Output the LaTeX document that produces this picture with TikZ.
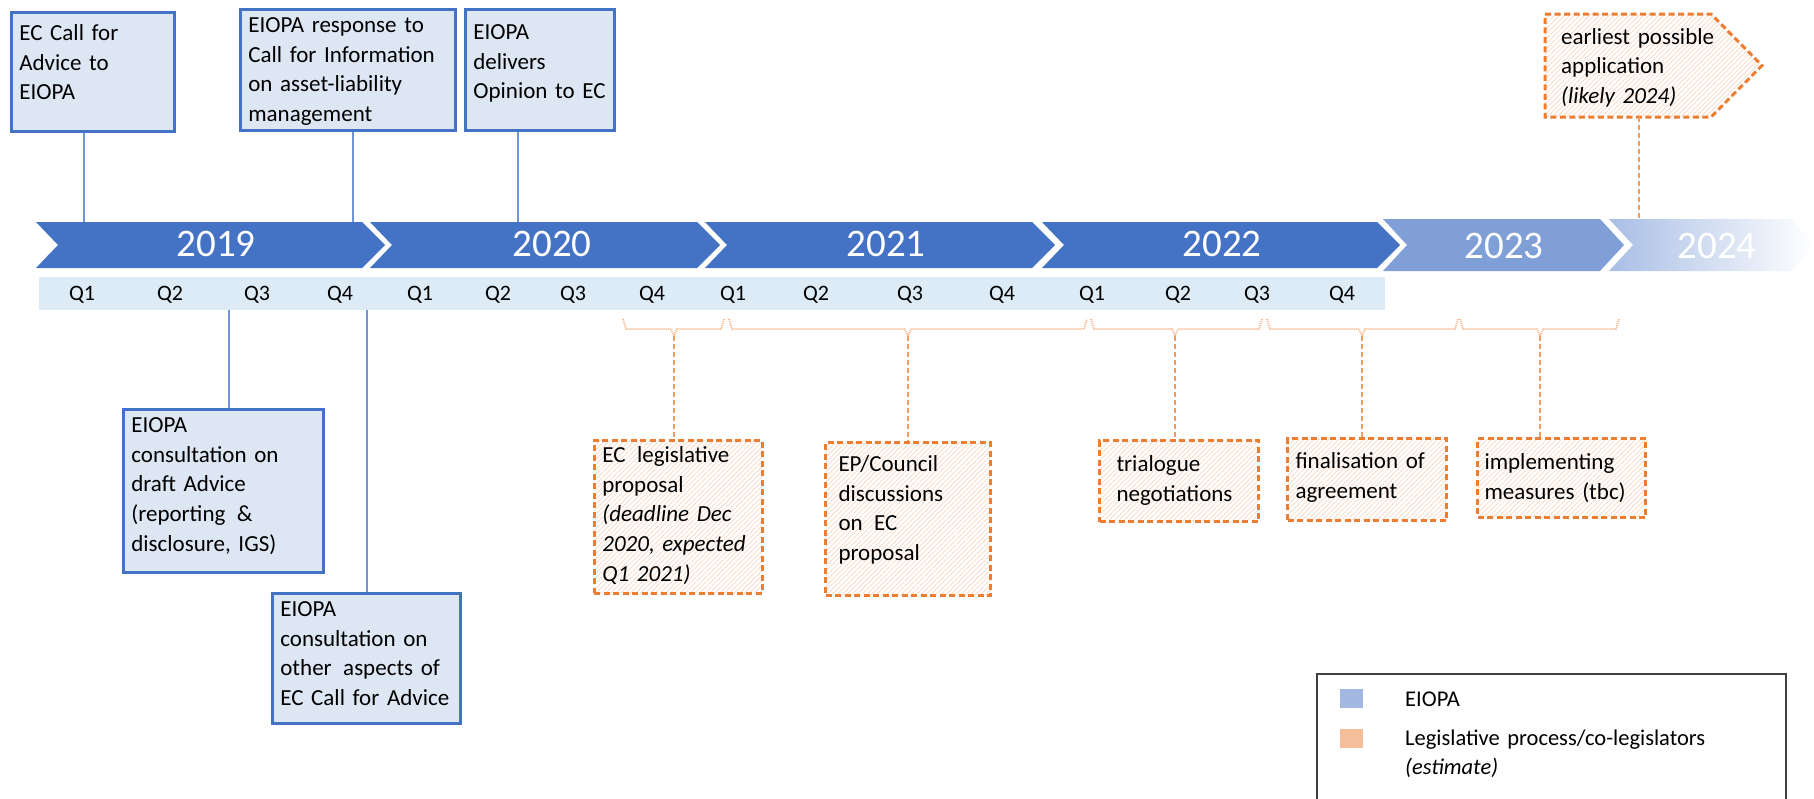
\documentclass[tikz,border=0pt]{standalone}
\usepackage{fontspec}
\setmainfont{Carlito}
\usepackage{tikz}
\usetikzlibrary{patterns.meta}

\definecolor{chevblue}{HTML}{4472C4}
\definecolor{chevlight}{HTML}{7F9FD6}
\definecolor{chevpale}{HTML}{A9BEE5}
\definecolor{qbar}{HTML}{DDEBF7}
\definecolor{boxfill}{HTML}{DDE7F4}
\definecolor{linkblue}{HTML}{7096D6}
\definecolor{procorange}{HTML}{ED7D31}
\definecolor{hatch}{HTML}{F9D6BE}
\definecolor{linkorange}{HTML}{F29B62}
\definecolor{braceorange}{HTML}{F5B68C}
\definecolor{keyblue}{HTML}{A3B8E0}
\definecolor{keyorange}{HTML}{F5BE9A}
\definecolor{keyframe}{HTML}{404040}

\newcommand{\evfont}{\fontsize{23}{29.7}\selectfont}

\tikzset{
  yrlab/.style={text=white, inner sep=0pt, font=\fontsize{39}{44}\selectfont},
  qlab/.style={inner sep=0pt, font=\fontsize{22}{26}\selectfont},
  eiopabox/.style={draw=chevblue, fill=boxfill, line width=2.7pt, anchor=north west,
    align=left, inner xsep=8pt, inner ysep=8pt, text height=15pt, font=\evfont},
  procline/.style={draw=procorange, line width=3pt, dash pattern=on 6pt off 3.5pt,
    pattern={Lines[angle=45,distance=3.5pt,line width=0.7pt]}, pattern color=hatch},
  procbox/.style={procline, anchor=north west, align=left, inner xsep=8pt,
    inner ysep=8pt, font=\evfont},
  eiopalink/.style={draw=linkblue, line width=1.3pt},
  proclink/.style={draw=linkorange, line width=1.6pt, dash pattern=on 5pt off 3pt},
  procbrace/.style={draw=braceorange, line width=1.8pt, dash pattern=on 1pt off 1pt},
  keysq/.style={minimum width=23pt, minimum height=19pt, inner sep=0pt},
  keytext/.style={anchor=base west, align=left, inner sep=0pt, text width=370pt,
    font=\fontsize{22.5}{29}\selectfont},
}

\begin{document}
\begin{tikzpicture}[x=1pt,y=-1pt]
\useasboundingbox (0,0) rectangle (1814,798);

% quarters and years
\fill[qbar] (39,277) rectangle (1385,310);
\foreach \l/\r in {36/362,370/697,705/1032,1042/1377}
  \fill[chevblue] (\l,222) -- (\r,222) -- (\r+23,245) -- (\r,268) -- (\l,268) -- (\l+22,245) -- cycle;
\fill[chevlight] (1383,219) -- (1600,219) -- (1624,245) -- (1600,271) -- (1383,271) -- (1407,245) -- cycle;
\shade[left color=chevpale, middle color=chevpale!85, right color=white]
  (1609,219) -- (1792,219) -- (1814,245) -- (1792,271) -- (1609,271) -- (1633,245) -- cycle;

\foreach \x/\y/\yr in {216/244/2019,552/244/2020,886/244/2021,1222/244/2022,1504/246/2023,1717/246/2024}
  \node[yrlab] (yr\yr) at (\x,\y) {\yr};

\foreach \x [count=\i] in {82,170,257,340,420,498,573,652,733,816,910,1002,1092,1178,1257,1342}{
  \pgfmathtruncatemacro{\q}{mod(\i-1,4)+1}
  \node[qlab] (q\i) at (\x,295) {Q\q};
}

% EIOPA
\node[eiopabox, text width=147pt, text height=20pt, text depth=83pt] (callA) at (10,11)
  {EC Call for\\Advice to\\EIOPA};
\node[eiopabox, text width=199pt, text depth=90pt] (alm) at (239,8)
  {EIOPA response to\\Call for Information\\on asset-liability\\management};
\node[eiopabox, text width=133pt, text height=22pt, text depth=83pt] (opin) at (464,8)
  {EIOPA\\delivers\\Opinion to EC};
\node[eiopabox, text width=184pt, text depth=132pt] (consA) at (122,408)
  {EIOPA\\consultation on\\draft Advice\\(reporting\enspace\&\\disclosure, IGS)};
\node[eiopabox, text width=172pt, text depth=99pt] (consB) at (271,592)
  {EIOPA\\consultation on\\other\enspace aspects of\\EC Call for Advice};

\coordinate (tA) at (84,222);
\coordinate (tB) at (353,222);
\coordinate (tC) at (518,222);
\coordinate (bD) at (229,310);
\coordinate (bE) at (367,310);
\draw[eiopalink] (tA) -- (tA |- callA.south);
\draw[eiopalink] (tB) -- (tB |- alm.south);
\draw[eiopalink] (tC) -- (tC |- opin.south);
\draw[eiopalink] (bD) -- (bD |- consA.north);
\draw[eiopalink] (bE) -- (bE |- consB.north);

% legislative process
\node[procbox, text width=152pt, text height=14pt, text depth=123pt] (legprop) at (594,440)
  {EC\enspace legislative\\proposal\\\textit{(deadline Dec}\\\textit{2020, expected}\\\textit{Q1 2021)}};
\node[procbox, inner xsep=13pt, text width=139pt, text height=21pt, text depth=116pt] (council) at (824,441)
  {EP/Council\\discussions\\on\enspace EC\\proposal};
\node[procbox, inner xsep=17pt, text width=125pt, text height=23pt, text depth=42pt] (trilog) at (1098,439)
  {trialogue\\negotiations};
\node[procbox, text width=143pt, text height=22pt, text depth=44pt] (final) at (1286,437)
  {finalisation of\\agreement};
\node[procbox, inner xsep=7pt, text width=154pt, text height=23pt, text depth=40pt] (impl) at (1476,437)
  {implementing\\measures (tbc)};

\path[procline] (1545,14) -- (1711,14) -- (1762,65.5) -- (1711,117) -- (1545,117) -- cycle;
\node[anchor=north west, align=left, inner xsep=16pt, inner ysep=8pt, font=\evfont,
  text width=160pt, text height=22pt, text depth=65pt] (appl) at (1545,14)
  {earliest possible\\application\\\textit{(likely 2024)}};

\foreach \a/\c/\b [count=\i] in {623/674/724,729/908/1087,1091/1175/1262,1267/1362/1458,1460/1540/1619}{
  \draw[procbrace] (\a,319) -- (\a+3,329) -- (\c-3,329) -- (\c,336) -- (\c+3,329) -- (\b-3,329) -- (\b,319);
  \coordinate (brk\i) at (\c,336);
}
\draw[proclink] (brk1) -- (brk1 |- legprop.north);
\draw[proclink] (brk2) -- (brk2 |- council.north);
\draw[proclink] (brk3) -- (brk3 |- trilog.north);
\draw[proclink] (brk4) -- (brk4 |- final.north);
\draw[proclink] (brk5) -- (brk5 |- impl.north);

\coordinate (t24) at (1639,219);
\draw[proclink] (appl.south -| t24) -- (t24);

% key
\draw[keyframe, line width=1.6pt] (1317,800) -- (1317,674) -- (1786,674) -- (1786,800);
\node[keysq, fill=keyblue] (keyeiopa) at (1351.5,698.5) {};
\node[keysq, fill=keyorange] (keyproc) at (1351.5,738) {};
\node[keytext] (keyeiopatxt) at (1405,706) {EIOPA};
\node[keytext] (keyproctxt) at (1405,745) {Legislative process/co-legislators\\\textit{(estimate)}};
\end{tikzpicture}
\end{document}
